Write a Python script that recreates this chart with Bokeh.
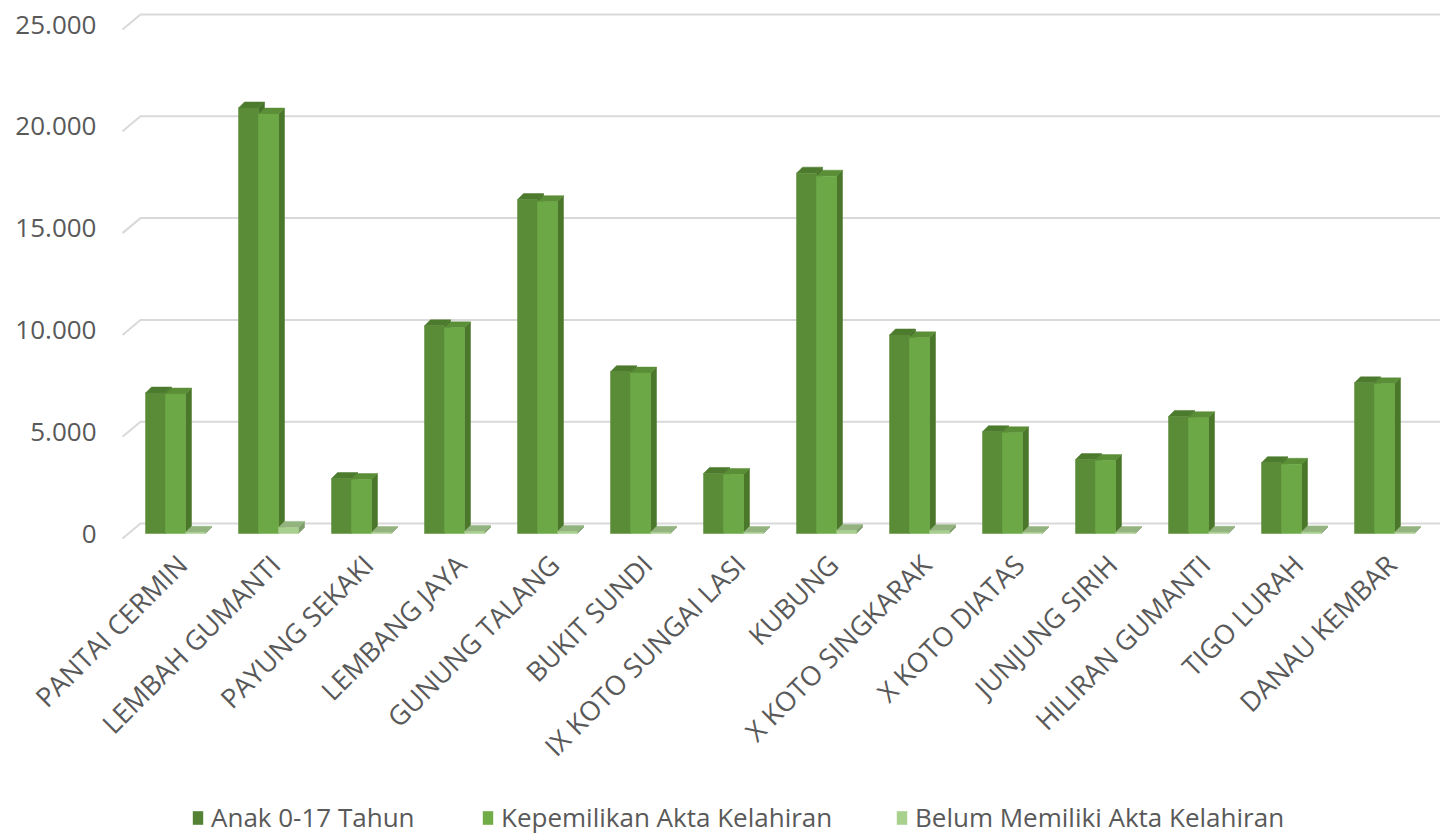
import math
from bokeh.plotting import figure
from bokeh.models import (ColumnDataSource, FixedTicker, Legend, LegendItem, Range1d,
                          CustomJSTickFormatter)
from bokeh.layouts import column
from bokeh.embed import file_html
from bokeh.resources import INLINE

# ---------------- data ----------------
categories = ["PANTAI CERMIN", "LEMBAH GUMANTI", "PAYUNG SEKAKI", "LEMBANG JAYA",
              "GUNUNG TALANG", "BUKIT SUNDI", "IX KOTO SUNGAI LASI", "KUBUNG",
              "X KOTO SINGKARAK", "X KOTO DIATAS", "JUNJUNG SIRIH", "HILIRAN GUMANTI",
              "TIGO LURAH", "DANAU KEMBAR"]
anak = [6900, 20900, 2700, 10200, 16400, 7950, 2950, 17700, 9750, 5000, 3630, 5750, 3480, 7400]
akta = [6850, 20600, 2650, 10100, 16300, 7880, 2900, 17550, 9610, 4950, 3580, 5690, 3400, 7350]
belum = [60, 300, 50, 100, 100, 60, 50, 150, 140, 50, 50, 60, 80, 50]
series_names = ["Anak 0-17 Tahun", "Kepemilikan Akta Kelahiran", "Belum Memiliki Akta Kelahiran"]
y_ticks = [0, 5000, 10000, 15000, 20000, 25000]
y_tick_labels = ["0", "5.000", "10.000", "15.000", "20.000", "25.000"]

# ---------------- style / geometry ----------------
FONT = "Open Sans"
TXT = "#595959"
GRID = "#D9D9D9"
PX_CAT = 93.0
PX_VAL = 0.02036
DX = 6 / PX_CAT          # bar depth (x)
DY = 6 / PX_VAL          # bar depth (y)
BACK_DX = -35 / PX_CAT   # back wall start
BACK_DY = 10 / PX_VAL
FRONT_DX = -53 / PX_CAT
FRONT_DY = -5 / PX_VAL
LABEL_SHIFT = 0.07
offsets = [(-0.3225, -0.1075), (-0.1075, 0.1075), (0.1075, 0.3225)]
front_cols = ["#5A8B37", "#6CA946", "#A9CF8F"]
top_cols = ["#4D7B2E", "#5A8E37", "#93B47F"]
side_cols = ["#466F28", "#4A7729", "#7E9E6C"]
legend_cols = ["#548235", "#70AD47", "#A9D18E"]

W = 1440
p = figure(width=W, height=790, output_backend="svg", toolbar_location=None,
           x_range=Range1d(-0.8065, (W - 175) / PX_CAT), y_range=Range1d(-589, 25688),
           min_border_left=100, min_border_right=0, min_border_top=10, min_border_bottom=245)
p.outline_line_color = None
p.xgrid.grid_line_color = None
p.ygrid.grid_line_color = None
p.background_fill_color = "white"
p.border_fill_color = "white"

# gridlines (back wall + diagonal floor edge)
gx, gy = [], []
for t in y_ticks:
    gx.append([FRONT_DX, BACK_DX, 15])
    gy.append([t + FRONT_DY, t + BACK_DY, t + BACK_DY])
p.multi_line(xs=gx, ys=gy, line_color=GRID, line_width=2)

# bars
series = [anak, akta, belum]
for s, vals in enumerate(series):
    a, b = offsets[s]
    x0 = [i + a for i in range(len(categories))]
    x1 = [i + b for i in range(len(categories))]
    tx, ty, sx, sy = [], [], [], []
    for l, r, v in zip(x0, x1, vals):
        tx.append([l, r, r + DX, l + DX])
        ty.append([v, v, v + DY, v + DY])
        sx.append([r, r + DX, r + DX, r])
        sy.append([0, DY, v + DY, v])
    p.patches(xs=sx, ys=sy, fill_color=side_cols[s], line_color=side_cols[s], line_width=0.5)
    p.patches(xs=tx, ys=ty, fill_color=top_cols[s], line_color=top_cols[s], line_width=0.5)
    src = ColumnDataSource(dict(left=x0, right=x1, top=vals, bottom=[0] * len(vals)))
    p.quad(left="left", right="right", top="top", bottom="bottom", source=src,
           fill_color=front_cols[s], line_color=front_cols[s], line_width=0.5)

# axes
p.yaxis.ticker = FixedTicker(ticks=y_ticks)
p.yaxis.major_label_overrides = {t: l for t, l in zip(y_ticks, y_tick_labels)}
p.yaxis.axis_line_color = None
p.yaxis.major_tick_line_color = None
p.yaxis.minor_tick_line_color = None
p.yaxis.major_tick_out = 0
p.yaxis.major_label_standoff = 4
p.yaxis.major_label_text_font = FONT
p.yaxis.major_label_text_font_size = "26px"
p.yaxis.major_label_text_color = TXT

p.xaxis.ticker = FixedTicker(ticks=[i + LABEL_SHIFT for i in range(len(categories))])
p.xaxis.formatter = CustomJSTickFormatter(args=dict(cats=categories),
                                          code="return cats[Math.round(tick)] || '';")
p.xaxis.major_label_orientation = math.pi / 4
p.xaxis.axis_line_color = None
p.xaxis.major_tick_line_color = None
p.xaxis.minor_tick_line_color = None
p.xaxis.major_tick_out = 0
p.xaxis.major_label_standoff = 14
p.xaxis.major_label_text_font = FONT
p.xaxis.major_label_text_font_size = "27px"
p.xaxis.major_label_text_color = TXT

# legend strip
leg = figure(width=W, height=45, output_backend="svg", toolbar_location=None,
             x_range=Range1d(0, 1), y_range=Range1d(0, 1), min_border=0,
             x_axis_location=None, y_axis_location=None)
leg.outline_line_color = None
leg.xgrid.visible = False
leg.ygrid.visible = False
leg_x = [91, 381, 795]
for s in range(3):
    dummy = leg.quad(left=[0], right=[0], top=[0], bottom=[0], fill_color=legend_cols[s],
                     line_color=legend_cols[s], line_alpha=0)
    lg = Legend(items=[LegendItem(label=series_names[s], renderers=[dummy])],
                location=(leg_x[s], 0), orientation="horizontal",
                background_fill_alpha=0, border_line_color=None, padding=0, margin=0,
                glyph_width=13, glyph_height=17, label_standoff=7,
                label_text_font=FONT, label_text_font_size="26px", label_text_color=TXT)
    leg.add_layout(lg)

layout = column(p, leg, spacing=0)
open("out.html", "w").write(file_html(layout, INLINE))
